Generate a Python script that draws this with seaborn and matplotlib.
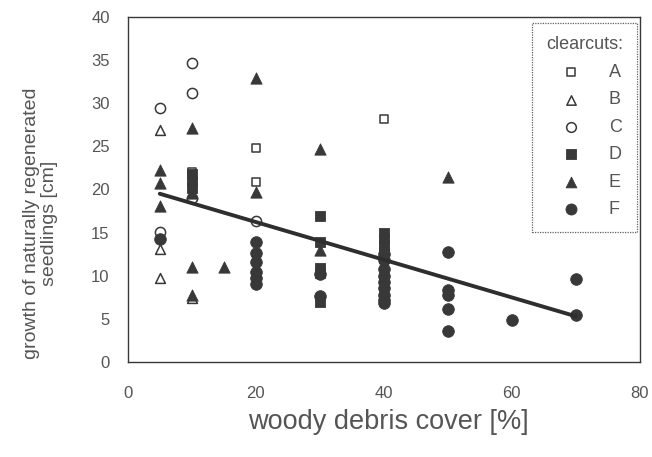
import numpy as np
import pandas as pd
import matplotlib
matplotlib.use("Agg")
import matplotlib.pyplot as plt
import seaborn as sns

# Woody debris cover [%] and seedling growth [cm] per clearcut
a_x = [10, 20, 20, 40]
a_y = [22.0, 24.8, 20.9, 28.2]

b_x = [5, 5, 5, 10, 10]
b_y = [26.9, 13.1, 9.7, 19.4, 7.4]

c_x = [5, 5, 10, 10, 10, 20]
c_y = [29.4, 15.1, 34.6, 31.2, 19.0, 16.3]

d_x = [10, 10, 10, 30, 30, 30, 30, 30, 40, 40, 40, 40, 40]
d_y = [21.8, 21.0, 20.2, 16.9, 13.9, 10.9, 10.3, 7.0, 14.9, 14.2, 13.5, 12.8, 12.0]

e_x = [5, 5, 5, 10, 10, 10, 10, 15, 20, 20, 30, 30, 50]
e_y = [22.3, 20.8, 18.1, 27.1, 19.6, 11.0, 7.8, 11.0, 32.9, 19.7, 24.7, 13.0, 21.4]

f_x = [5, 20, 20, 20, 20, 20, 20, 30, 30, 40, 40, 40, 40, 40, 40, 40, 40, 40,
       50, 50, 50, 50, 50, 60, 70, 70]
f_y = [14.3, 13.9, 12.6, 11.6, 10.4, 9.7, 9.0, 10.2, 7.6, 12.5, 11.8, 10.8, 10.0,
       9.3, 8.6, 7.8, 7.2, 6.8, 12.7, 8.3, 7.8, 6.1, 3.6, 4.9, 9.6, 5.4]

# Linear trend across all clearcuts
fit_x = [5, 70]
fit_y = [19.5, 5.3]

clearcuts = ["A", "B", "C", "D", "E", "F"]
series = {"A": (a_x, a_y), "B": (b_x, b_y), "C": (c_x, c_y),
          "D": (d_x, d_y), "E": (e_x, e_y), "F": (f_x, f_y)}

x_ticks = [0, 20, 40, 60, 80]
y_ticks = [0, 5, 10, 15, 20, 25, 30, 35, 40]

frames = [pd.DataFrame({"cover": xs, "growth": ys, "clearcut": k})
          for k, (xs, ys) in series.items()]
df = pd.concat(frames, ignore_index=True)

sns.set_theme(style="white")
plt.rcParams["font.family"] = ["Liberation Sans", "DejaVu Sans"]

ink = "#383838"
text_col = "#555555"

markers = {"A": "s", "B": "^", "C": "o", "D": "s", "E": "^", "F": "o"}
open_sets = {"A", "B", "C"}
sizes = {"s": 40, "^": 50, "o": 54}

fig = plt.figure(figsize=(6.52, 4.57), dpi=100)
ax = fig.add_axes([0.196, 0.208, 0.785, 0.755])

for k in clearcuts:
    sub = df[df["clearcut"] == k]
    m = markers[k]
    if k in open_sets:
        sns.scatterplot(data=sub, x="cover", y="growth", ax=ax, marker=m,
                        s=sizes[m], color=ink, facecolor="white",
                        edgecolor=ink, linewidth=1.1, label=k, zorder=3)
    else:
        sns.scatterplot(data=sub, x="cover", y="growth", ax=ax, marker=m,
                        s=sizes[m] + 16, color=ink, facecolor=ink,
                        edgecolor=ink, linewidth=0.6, label=k, zorder=3)

sns.lineplot(x=fit_x, y=fit_y, ax=ax, color="#2e2e2e", linewidth=2.8,
             zorder=4, legend=False)

ax.set_xlim(0, 80)
ax.set_ylim(0, 40)
ax.set_xticks(x_ticks)
ax.set_yticks(y_ticks)
ax.tick_params(axis="both", direction="out", length=3, width=0.8,
               color=ink, labelsize=12, labelcolor=text_col)
ax.tick_params(axis="y", pad=10)
ax.tick_params(axis="x", pad=14)

for sp in ax.spines.values():
    sp.set_visible(True)
    sp.set_color(ink)
    sp.set_linewidth(1.0)
    sp.set_linestyle((0, (1, 1)))

ax.set_xlabel("woody debris cover [%]", fontsize=19.5, color=text_col,
              labelpad=6)
ax.xaxis.set_label_coords(0.51, -0.135)
ax.set_ylabel("growth of naturally regenerated\nseedlings [cm]",
              fontsize=14, color=text_col, linespacing=1.1)
ax.yaxis.set_label_coords(-0.136, 0.403)

handles, labels = ax.get_legend_handles_labels()
leg = ax.legend(handles, labels, title="clearcuts:", loc="upper right",
                bbox_to_anchor=(0.994, 0.983), borderaxespad=0.0,
                frameon=True, fontsize=13, title_fontsize=13,
                handlelength=2.6, handletextpad=0.8, labelspacing=0.58,
                borderpad=0.75, markerscale=0.95, fancybox=False)
leg.get_frame().set_edgecolor(ink)
leg.get_frame().set_linewidth(0.9)
leg.get_frame().set_linestyle((0, (1, 1)))
leg.get_title().set_color(text_col)
for t in leg.get_texts():
    t.set_color(text_col)

fig.savefig("out.png", dpi=100, facecolor="white")
